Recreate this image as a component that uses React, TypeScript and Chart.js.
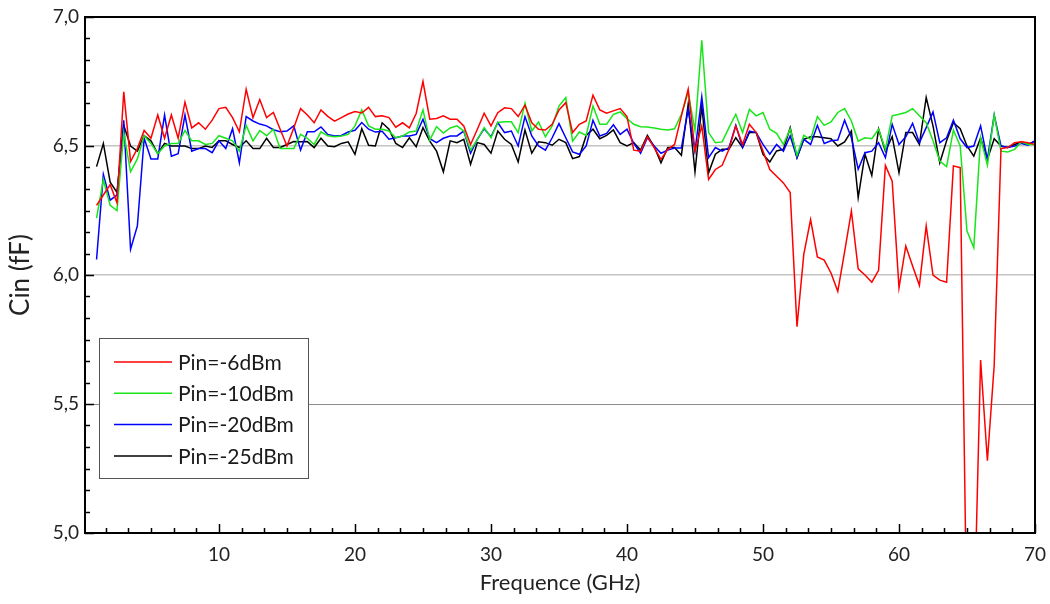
import React, { useEffect, useRef } from 'react';
import { Chart, registerables } from 'chart.js';

Chart.register(...registerables);

// Frequency (GHz)
const freq = [
  1, 1.5, 2, 2.5, 3, 3.5, 4, 4.5, 5, 5.5,
  6, 6.5, 7, 7.5, 8, 8.5, 9, 9.5, 10, 10.5,
  11, 11.5, 12, 12.5, 13, 13.5, 14, 14.5, 15, 15.5,
  16, 16.5, 17, 17.5, 18, 18.5, 19, 19.5, 20, 20.5,
  21, 21.5, 22, 22.5, 23, 23.5, 24, 24.5, 25, 25.5,
  26, 26.5, 27, 27.5, 28, 28.5, 29, 29.5, 30, 30.5,
  31, 31.5, 32, 32.5, 33, 33.5, 34, 34.5, 35, 35.5,
  36, 36.5, 37, 37.5, 38, 38.5, 39, 39.5, 40, 40.5,
  41, 41.5, 42, 42.5, 43, 43.5, 44, 44.5, 45, 45.5,
  46, 46.5, 47, 47.5, 48, 48.5, 49, 49.5, 50, 50.5,
  51, 51.5, 52, 52.5, 53, 53.5, 54, 54.5, 55, 55.5,
  56, 56.5, 57, 57.5, 58, 58.5, 59, 59.5, 60, 60.5,
  61, 61.5, 62, 62.5, 63, 63.5, 64, 64.5, 65, 65.5,
  66, 66.5, 67, 67.5, 68, 68.5, 69, 69.5, 70,
];

// Cin (fF), Pin = -6 dBm
const pin6 = [
  6.27, 6.31, 6.35, 6.28, 6.71, 6.44, 6.49, 6.56, 6.53, 6.62,
  6.53, 6.62, 6.53, 6.67, 6.57, 6.59, 6.565, 6.60, 6.645, 6.65,
  6.61, 6.555, 6.72, 6.61, 6.68, 6.61, 6.63, 6.565, 6.50, 6.57,
  6.645, 6.62, 6.59, 6.64, 6.615, 6.596, 6.61, 6.624, 6.634, 6.628,
  6.65, 6.614, 6.617, 6.61, 6.573, 6.59, 6.57, 6.626, 6.75, 6.604,
  6.607, 6.617, 6.604, 6.604, 6.578, 6.506, 6.565, 6.627, 6.578, 6.629,
  6.648, 6.645, 6.614, 6.658, 6.59, 6.565, 6.562, 6.584, 6.64, 6.668,
  6.552, 6.584, 6.597, 6.697, 6.64, 6.627, 6.636, 6.645, 6.614, 6.484,
  6.48, 6.536, 6.494, 6.448, 6.487, 6.506, 6.617, 6.72, 6.481, 6.578,
  6.37, 6.409, 6.425, 6.487, 6.578, 6.506, 6.584, 6.552, 6.481, 6.409,
  6.383, 6.357, 6.32, 5.80, 6.08, 6.215, 6.07, 6.058, 6.008, 5.937,
  6.09, 6.248, 6.024, 6.0, 5.972, 6.018, 6.425, 6.364, 5.95, 6.112,
  6.035, 5.96, 6.19, 6.0, 5.98, 5.972, 6.423, 6.416, 4.6, 4.6,
  5.67, 5.28, 5.65, 6.49, 6.494, 6.513, 6.516, 6.513, 6.506,
];

// Cin (fF), Pin = -10 dBm
const pin10 = [
  6.22, 6.37, 6.27, 6.25, 6.55, 6.40, 6.45, 6.54, 6.51, 6.47,
  6.50, 6.51, 6.51, 6.56, 6.52, 6.52, 6.506, 6.51, 6.54, 6.53,
  6.52, 6.48, 6.58, 6.52, 6.56, 6.54, 6.565, 6.49, 6.49, 6.49,
  6.545, 6.53, 6.506, 6.555, 6.54, 6.536, 6.539, 6.545, 6.578, 6.64,
  6.578, 6.565, 6.565, 6.558, 6.532, 6.539, 6.554, 6.558, 6.64, 6.523,
  6.575, 6.55, 6.57, 6.578, 6.558, 6.484, 6.526, 6.571, 6.532, 6.591,
  6.594, 6.594, 6.552, 6.666, 6.558, 6.593, 6.536, 6.578, 6.655, 6.688,
  6.519, 6.554, 6.541, 6.655, 6.584, 6.584, 6.623, 6.632, 6.606, 6.584,
  6.575, 6.574, 6.57, 6.565, 6.562, 6.567, 6.623, 6.707, 6.56, 6.91,
  6.552, 6.513, 6.516, 6.571, 6.623, 6.552, 6.642, 6.617, 6.63, 6.565,
  6.549, 6.506, 6.567, 6.464, 6.541, 6.526, 6.614, 6.58, 6.593, 6.63,
  6.645, 6.597, 6.519, 6.532, 6.528, 6.565, 6.487, 6.617, 6.623, 6.63,
  6.645, 6.617, 6.59, 6.52, 6.442, 6.42, 6.562, 6.50, 6.17, 6.106,
  6.532, 6.425, 6.62, 6.48, 6.477, 6.487, 6.516, 6.506, 6.506,
];

// Cin (fF), Pin = -20 dBm
const pin20 = [
  6.06, 6.39, 6.29, 6.31, 6.60, 6.10, 6.19, 6.53, 6.45, 6.45,
  6.62, 6.46, 6.47, 6.62, 6.48, 6.49, 6.49, 6.474, 6.52, 6.49,
  6.567, 6.435, 6.614, 6.597, 6.585, 6.578, 6.563, 6.555, 6.558, 6.578,
  6.484, 6.555, 6.555, 6.574, 6.545, 6.539, 6.541, 6.554, 6.561, 6.591,
  6.565, 6.554, 6.557, 6.526, 6.532, 6.539, 6.539, 6.545, 6.604, 6.528,
  6.513, 6.53, 6.539, 6.539, 6.558, 6.472, 6.526, 6.567, 6.536, 6.591,
  6.552, 6.558, 6.50, 6.614, 6.539, 6.50, 6.484, 6.532, 6.587, 6.532,
  6.477, 6.468, 6.50, 6.60, 6.539, 6.549, 6.582, 6.545, 6.565, 6.51,
  6.472, 6.532, 6.50, 6.472, 6.484, 6.492, 6.492, 6.642, 6.48, 6.69,
  6.455, 6.494, 6.48, 6.494, 6.58, 6.494, 6.558, 6.552, 6.506, 6.468,
  6.506, 6.48, 6.539, 6.455, 6.526, 6.506, 6.58, 6.51, 6.52, 6.523,
  6.60, 6.532, 6.41, 6.474, 6.48, 6.513, 6.455, 6.584, 6.506, 6.536,
  6.588, 6.513, 6.571, 6.632, 6.513, 6.532, 6.60, 6.528, 6.494, 6.50,
  6.578, 6.448, 6.62, 6.50, 6.494, 6.50, 6.51, 6.503, 6.52,
];

// Cin (fF), Pin = -25 dBm
const pin25 = [
  6.42, 6.51, 6.36, 6.32, 6.58, 6.50, 6.48, 6.54, 6.52, 6.47,
  6.51, 6.50, 6.50, 6.50, 6.49, 6.49, 6.50, 6.494, 6.52, 6.52,
  6.506, 6.494, 6.52, 6.49, 6.49, 6.53, 6.494, 6.494, 6.506, 6.517,
  6.516, 6.517, 6.494, 6.53, 6.50, 6.497, 6.51, 6.516, 6.468, 6.567,
  6.503, 6.50, 6.59, 6.565, 6.51, 6.494, 6.532, 6.497, 6.571, 6.519,
  6.48, 6.40, 6.52, 6.513, 6.526, 6.429, 6.513, 6.506, 6.472, 6.558,
  6.526, 6.506, 6.438, 6.562, 6.472, 6.516, 6.513, 6.503, 6.526, 6.513,
  6.451, 6.459, 6.541, 6.565, 6.528, 6.541, 6.562, 6.513, 6.50, 6.513,
  6.484, 6.541, 6.497, 6.435, 6.494, 6.494, 6.464, 6.662, 6.40, 6.655,
  6.396, 6.468, 6.487, 6.487, 6.532, 6.494, 6.552, 6.552, 6.468, 6.438,
  6.481, 6.487, 6.571, 6.455, 6.526, 6.536, 6.536, 6.532, 6.528, 6.50,
  6.516, 6.558, 6.30, 6.468, 6.386, 6.565, 6.48, 6.536, 6.396, 6.552,
  6.552, 6.506, 6.688, 6.578, 6.435, 6.52, 6.59, 6.567, 6.50, 6.461,
  6.532, 6.448, 6.528, 6.50, 6.494, 6.506, 6.516, 6.506, 6.52,
];

const seriesLabels = ['Pin=-6dBm', 'Pin=-10dBm', 'Pin=-20dBm', 'Pin=-25dBm'];
const seriesColors = ['#ff0000', '#19e619', '#0000ff', '#000000'];
const seriesValues = [pin6, pin10, pin20, pin25];

const xTicks = [10, 20, 30, 40, 50, 60, 70];
const yTicks = [5.0, 5.5, 6.0, 6.5, 7.0];

const FONT = 'Lato, "Open Sans", sans-serif';

const frameTicksPlugin = {
  id: 'frameTicks',
  afterDatasetsDraw(chart: any) {
    const { ctx, chartArea, scales } = chart;
    const { left, right, top, bottom } = chartArea;
    const xs = scales.x;
    const ys = scales.y;
    ctx.save();
    ctx.strokeStyle = '#000';
    ctx.lineWidth = 1.5;
    ctx.beginPath();
    for (let k = 0; k <= 42; k++) {
      const v = (k * 10) / 6;
      if (v < xs.min - 1e-9 || v > xs.max + 1e-9) continue;
      const px = Math.round(xs.getPixelForValue(v)) + 0.5;
      const len = k % 6 === 0 ? 9 : 5;
      ctx.moveTo(px, bottom);
      ctx.lineTo(px, bottom - len);
    }
    for (let k = 0; k <= 24; k++) {
      const v = 5 + k / 12;
      const py = Math.round(ys.getPixelForValue(v)) + 0.5;
      const len = k % 6 === 0 ? 9 : 5;
      ctx.moveTo(left, py);
      ctx.lineTo(left + len, py);
    }
    ctx.stroke();
    ctx.lineWidth = 2;
    ctx.strokeRect(left, top, right - left, bottom - top);
    ctx.restore();
  },
};

const boxLegendPlugin = {
  id: 'boxLegend',
  afterDraw(chart: any) {
    const { ctx } = chart;
    ctx.save();
    ctx.fillStyle = '#ffffff';
    ctx.fillRect(99.5, 338.5, 209, 140);
    ctx.strokeStyle = '#555';
    ctx.lineWidth = 1;
    ctx.strokeRect(99.5, 338.5, 209, 140);
    chart.data.datasets.forEach((ds: any, i: number) => {
      const y = 362 + i * 31.3;
      ctx.strokeStyle = ds.borderColor;
      ctx.lineWidth = 1.5;
      ctx.beginPath();
      ctx.moveTo(114, y);
      ctx.lineTo(172, y);
      ctx.stroke();
      ctx.fillStyle = '#1a1a1a';
      ctx.font = `21px ${FONT}`;
      ctx.textBaseline = 'middle';
      ctx.textAlign = 'left';
      ctx.fillText(ds.label, 178, y + 1);
    });
    ctx.restore();
  },
};

export default function App() {
  const canvasRef = useRef<HTMLCanvasElement | null>(null);

  useEffect(() => {
    document.body.style.margin = '0';
    const canvas = canvasRef.current;
    if (!canvas) return;
    const datasets = seriesValues.map((vals, s) => ({
      label: seriesLabels[s],
      data: vals.map((v, i) => ({ x: freq[i], y: v })),
      borderColor: seriesColors[s],
      backgroundColor: seriesColors[s],
      borderWidth: 1.5,
      pointRadius: 0,
      tension: 0,
      fill: false,
    }));
    const chart = new Chart(canvas, {
      type: 'line',
      data: { datasets },
      options: {
        animation: false,
        responsive: false,
        maintainAspectRatio: false,
        layout: { padding: { left: 0, right: 15, top: 17, bottom: 0 } },
        plugins: {
          legend: { display: false },
          tooltip: { enabled: false },
        },
        scales: {
          x: {
            type: 'linear',
            min: 0.15,
            max: 70,
            afterBuildTicks: (scale: any) => {
              scale.ticks = xTicks.map((v) => ({ value: v }));
            },
            afterFit: (scale: any) => {
              scale.height = 71;
              scale.paddingLeft = 0;
              scale.paddingRight = 0;
            },
            grid: { display: false, drawTicks: false },
            border: { display: false },
            ticks: {
              padding: 10,
              color: '#222',
              font: { family: FONT, size: 19 },
              maxRotation: 0,
              autoSkip: false,
            },
            title: {
              display: true,
              text: 'Frequence (GHz)',
              color: '#222',
              font: { family: FONT, size: 22 },
              padding: { top: 0, bottom: 8 },
            },
          },
          y: {
            type: 'linear',
            min: 5,
            max: 7,
            afterBuildTicks: (scale: any) => {
              scale.ticks = yTicks.map((v) => ({ value: v }));
            },
            afterFit: (scale: any) => {
              scale.width = 85;
              scale.paddingTop = 0;
              scale.paddingBottom = 0;
            },
            grid: {
              drawTicks: false,
              color: (c: any) => {
                const v = c.tick ? c.tick.value : null;
                if (v === 5.5) return '#8c8c8c';
                if (v === 6 || v === 6.5) return '#c4c4c4';
                return 'rgba(0,0,0,0)';
              },
              lineWidth: (c: any) => {
                const v = c.tick ? c.tick.value : null;
                return v === 5.5 ? 1 : 1.5;
              },
            },
            border: { display: false },
            ticks: {
              padding: 6,
              color: '#222',
              font: { family: FONT, size: 19 },
              callback: (value: any) => Number(value).toFixed(1).replace('.', ','),
            },
            title: {
              display: true,
              text: 'Cin (fF)',
              color: '#222',
              font: { family: FONT, size: 26 },
              padding: { top: 5, bottom: 0 },
            },
          },
        },
      },
      plugins: [frameTicksPlugin, boxLegendPlugin],
    });
    return () => {
      chart.destroy();
    };
  }, []);

  return (
    <div style={{ position: 'fixed', left: 0, top: 0, width: 1050, height: 604, background: '#fff' }}>
      <canvas ref={canvasRef} width={1050} height={604} />
    </div>
  );
}
